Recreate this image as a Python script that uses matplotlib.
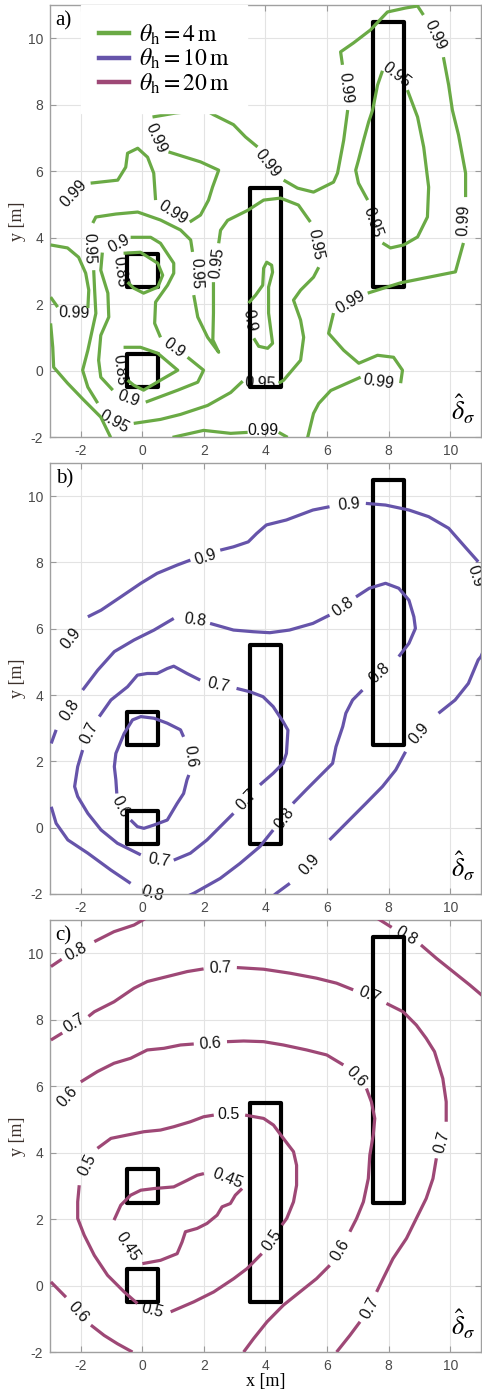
import math
import matplotlib
matplotlib.use('Agg')
import matplotlib.pyplot as plt
from matplotlib.lines import Line2D
from matplotlib.patches import Rectangle

plt.rcParams['font.family'] = ['Liberation Sans', 'DejaVu Sans']
plt.rcParams['mathtext.fontset'] = 'stix'
plt.rcParams['axes.unicode_minus'] = False

# obstacles (x0, y0, width, height) in metres
obstacles = [(-0.5, 2.5, 1.0, 1.0), (-0.5, -0.5, 1.0, 1.0),
             (3.5, -0.5, 1.0, 6.0), (7.5, 2.5, 1.0, 8.0)]

ticks = [-2, 0, 2, 4, 6, 8, 10]
xlim = (-3, 11)
ylim = (-2, 11)

colors = ['#6aaa45', '#6654aa', '#9e4876']
legend_labels = [r'$\theta_{\mathrm{h}} = 4\,\mathrm{m}$',
                 r'$\theta_{\mathrm{h}} = 10\,\mathrm{m}$',
                 r'$\theta_{\mathrm{h}} = 20\,\mathrm{m}$']
panel_tags = ['a)', 'b)', 'c)']

# contour paths: (x, y) vertices, (x, y, True) marks where the level label sits
contours_a = [
    ('0.99', [(-3.01, 4.32), (-2.23, 5.34, True), (-1.68, 5.64), (-0.80, 5.73), (-0.54, 6.12),
              (-0.48, 6.54), (-0.15, 6.69), (0.17, 6.42), (0.37, 5.94), (0.43, 5.13),
              (0.98, 4.74, True), (1.54, 4.47), (1.89, 4.68), (2.15, 5.13), (2.28, 5.52),
              (2.48, 6.03), (1.89, 6.28), (0.85, 6.58), (0.43, 7.0, True), (0.33, 7.63),
              (1.08, 7.75), (2.03, 7.85), (2.31, 7.70), (2.96, 7.40), (3.35, 7.03), (3.74, 6.73),
              (4.07, 6.24, True), (4.59, 5.73), (5.04, 5.49), (5.56, 5.37), (6.21, 5.67),
              (6.34, 5.94), (6.54, 6.93), (6.67, 7.84), (6.60, 8.50, True), (6.50, 9.20),
              (6.44, 9.59), (6.86, 9.86), (7.41, 10.25), (7.96, 10.79), (8.55, 10.91),
              (8.94, 10.97), (9.13, 10.70), (9.52, 10.10, True), (9.78, 9.43), (9.95, 8.59),
              (10.07, 7.84), (10.27, 7.09), (10.50, 5.94), (10.50, 5.22), (10.43, 4.53, True),
              (10.43, 3.84), (10.17, 2.97), (9.36, 2.82), (8.39, 2.64), (7.32, 2.33),
              (6.76, 2.06, True), (6.21, 1.73), (6.05, 1.12), (6.54, 0.61), (7.03, 0.22),
              (7.64, 0.46), (8.16, 0.40), (8.45, 0.01), (8.39, -0.38), (7.68, -0.35, True),
              (7.09, -0.20), (6.12, -0.60), (5.73, -0.99), (5.56, -1.29), (5.37, -2.01)]),
    ('0.99', [(-2.98, 2.21), (-2.75, 1.91), (-2.23, 1.72, True), (-1.77, 1.88), (-1.74, 2.42),
              (-1.84, 2.93), (-2.07, 3.41), (-2.43, 3.69), (-2.98, 3.78)]),
    ('0.99', [(-2.98, 1.42), (-2.91, 0.70), (-2.88, 0.10), (-2.43, -0.38), (-1.90, -0.89),
              (-1.35, -1.40), (-1.03, -2.01)]),
    ('0.99', [(0.98, -2.01), (1.99, -1.80), (2.87, -1.89), (3.42, -1.86), (3.91, -1.80, True),
              (4.43, -1.86), (4.72, -2.01)]),
    ('0.95', [(-1.74, 3.68, True), (-1.61, 4.44), (-1.51, 4.62), (-0.86, 4.71), (-0.15, 4.77),
              (0.59, 4.53), (1.24, 4.23), (1.57, 3.93), (1.63, 3.57), (1.74, 2.93, True),
              (1.67, 2.27), (1.80, 1.61), (2.12, 1.00), (2.48, 0.55), (2.29, 0.92), (2.31, 1.73),
              (2.31, 2.66), (2.44, 3.23, True), (2.48, 3.83), (2.54, 4.22), (2.77, 4.52),
              (3.42, 4.82), (3.94, 5.13), (4.49, 5.19), (5.07, 4.98), (5.46, 4.47),
              (5.63, 3.78, True), (5.73, 3.11), (5.56, 2.81), (5.14, 2.42), (4.91, 2.12),
              (5.14, 1.52), (5.24, 1.00), (5.14, 0.31), (4.59, -0.29), (4.43, -0.38),
              (3.84, -0.38, True), (3.26, -0.32), (2.87, -0.66), (2.12, -1.05), (1.24, -1.32),
              (0.59, -1.47), (-0.28, -1.59), (-0.90, -1.53, True), (-1.45, -0.98), (-1.77, -0.50),
              (-1.94, 0.01), (-1.77, 0.61), (-1.51, 1.72), (-1.55, 2.42), (-1.58, 3.02)]),
    ('0.95', [(8.26, 8.90, True), (7.80, 9.02), (7.64, 8.59), (7.48, 7.84), (7.35, 7.48),
              (7.19, 6.94), (7.02, 6.33), (6.93, 6.03), (7.02, 5.64), (7.32, 5.13),
              (7.48, 4.47, True), (7.80, 3.84), (8.06, 3.69), (8.49, 3.78), (8.94, 4.02),
              (9.26, 4.62), (9.30, 5.52), (9.14, 6.72), (8.94, 7.63), (8.61, 8.44)]),
    ('0.9', [(-0.77, 3.82, True), (-0.38, 4.01), (0.27, 4.01), (0.59, 3.83), (1.02, 3.23),
             (1.02, 2.93), (0.82, 2.57), (0.43, 2.06), (0.40, 1.42), (0.59, 1.00),
             (1.02, 0.67, True), (1.47, 0.40), (1.99, 0.01), (1.80, -0.35), (1.15, -0.59),
             (0.11, -0.95), (-0.44, -0.83, True), (-0.96, -0.59), (-1.35, -0.20), (-1.42, 0.31),
             (-1.35, 1.06), (-1.09, 1.61), (-1.12, 2.33), (-1.35, 3.02), (-1.30, 3.55)]),
    ('0.9', [(3.49, 1.52, True), (3.45, 2.03), (3.68, 2.27), (3.91, 2.57), (3.94, 3.08),
             (4.04, 3.26), (4.20, 3.17), (4.23, 2.96), (4.10, 2.51), (4.10, 1.73), (4.23, 0.82),
             (4.07, 0.67), (3.78, 0.73), (3.62, 0.97)]),
    ('0.85', [(-0.72, 2.98, True), (-0.61, 3.53), (-0.06, 3.56), (0.50, 3.23), (0.66, 2.87),
              (0.50, 2.51), (0.04, 2.33), (-0.28, 2.48), (-0.48, 2.66)]),
    ('0.85', [(-0.75, 0.03, True), (-0.61, 0.70), (-0.06, 0.70), (0.50, 0.52), (1.15, 0.01),
              (0.59, -0.29), (0.04, -0.59), (-0.28, -0.44), (-0.48, -0.29)]),
]

contours_b = [
    ('0.9', [(-2.96, 5.0), (-2.31, 5.71, True), (-1.77, 6.36), (-1.34, 6.56), (-0.70, 6.96),
             (-0.05, 7.37), (0.48, 7.67), (1.13, 7.92), (1.56, 8.07), (2.04, 8.17, True),
             (2.53, 8.37), (2.96, 8.47), (3.44, 8.62), (3.71, 8.87), (4.03, 9.13), (4.68, 9.28),
             (5.11, 9.43), (5.54, 9.58), (6.08, 9.68), (6.72, 9.75, True), (7.26, 9.78),
             (7.90, 9.73), (8.66, 9.58), (9.30, 9.38), (9.95, 9.03), (10.48, 8.47), (10.91, 8.02),
             (10.82, 7.60, True), (11.2, 7.2), (11.2, 5.6), (11.0, 5.16), (10.91, 5.06),
             (10.59, 4.35), (10.16, 3.85), (9.62, 3.45), (8.98, 2.84, True), (8.55, 2.29),
             (8.23, 1.74), (7.80, 1.24), (7.26, 0.73), (6.83, 0.33), (6.08, -0.37),
             (5.43, -1.13, True), (4.79, -1.68), (4.35, -1.98), (4.2, -2.1)]),
    ('0.8', [(-2.96, 2.54), (-2.80, 2.95), (-2.37, 3.55, True), (-1.94, 4.15), (-1.45, 4.75),
             (-0.91, 5.31), (-0.27, 5.66), (0.38, 5.96), (1.02, 6.31), (1.72, 6.26, True),
             (2.20, 6.16), (2.96, 5.96), (3.60, 5.91), (4.14, 5.88), (4.78, 5.96), (5.54, 6.16),
             (6.08, 6.41), (6.51, 6.66, True), (6.94, 6.96), (7.37, 7.22), (7.90, 7.37),
             (8.33, 7.22), (8.66, 6.86), (8.82, 6.36), (8.87, 6.01), (8.66, 5.56), (8.33, 5.16),
             (7.69, 4.65, True), (7.15, 4.15), (6.83, 3.85), (6.61, 3.45), (6.51, 3.05),
             (6.29, 2.44), (6.18, 1.94), (5.75, 1.54), (5.32, 1.14), (4.89, 0.73),
             (4.62, 0.28, True), (4.25, -0.07), (3.82, -0.57), (3.17, -1.08), (2.53, -1.53),
             (1.67, -1.98), (1.5, -2.05)]),
    ('0.8', [(-2.96, 0.63), (-2.80, 0.13), (-2.42, -0.37), (-1.77, -0.77), (-1.02, -1.28),
             (-0.38, -1.68), (0.32, -1.98, True), (1.0, -2.05)]),
    ('0.7', [(-1.72, 2.84, True), (-1.40, 3.35), (-1.02, 3.85), (-0.48, 4.25), (-0.16, 4.60),
             (0.16, 4.65), (0.48, 4.65), (0.81, 4.80), (1.02, 4.87), (1.45, 4.65), (1.88, 4.45),
             (2.47, 4.30, True), (3.06, 4.20), (3.49, 4.10), (3.92, 3.95), (4.25, 3.65),
             (4.57, 3.20), (4.73, 2.94), (4.68, 2.24), (4.57, 1.94), (4.25, 1.64), (3.82, 1.29),
             (3.39, 0.83, True), (2.96, 0.43), (2.53, 0.03), (2.10, -0.37), (1.56, -0.77),
             (1.02, -0.98), (0.54, -0.98, True), (-0.05, -0.82), (-0.81, -0.47), (-1.34, -0.07),
             (-1.77, 0.43), (-2.10, 0.94), (-2.20, 1.24), (-2.10, 1.84), (-1.94, 2.34)]),
    ('0.6', [(1.56, 2.14, True), (1.34, 2.74), (1.24, 2.95), (0.81, 3.15), (0.38, 3.30),
             (-0.05, 3.35), (-0.32, 3.25), (-0.59, 2.84), (-0.86, 2.24), (-0.91, 1.84),
             (-0.86, 1.44), (-0.83, 1.03), (-0.70, 0.63, True), (-0.38, 0.23), (-0.16, 0.03),
             (0.05, -0.02), (0.38, 0.08), (0.81, 0.23), (1.13, 0.73), (1.34, 1.03), (1.45, 1.44),
             (1.51, 1.59)]),
]

contours_c = [
    ('0.8', [(-2.97, 9.60), (-2.62, 9.82), (-2.16, 10.05, True), (-1.56, 10.35), (-0.92, 10.65),
             (-0.27, 10.85), (0.2, 11.1)]),
    ('0.8', [(7.55, 11.1), (8.1, 10.78), (8.58, 10.52, True), (9.05, 10.25), (9.55, 9.85),
             (10.09, 9.45), (10.63, 9.05), (11.05, 8.72)]),
    ('0.7', [(-2.97, 7.39), (-2.6, 7.6), (-2.21, 7.89, True), (-1.75, 8.1), (-1.56, 8.24),
             (-0.92, 8.54), (-0.27, 8.95), (0.16, 9.15), (0.81, 9.30), (1.46, 9.45), (1.99, 9.53),
             (2.54, 9.55, True), (3.07, 9.57), (3.94, 9.52), (4.80, 9.40), (5.66, 9.25),
             (6.31, 9.10), (6.85, 8.90), (7.39, 8.75, True), (7.93, 8.49), (8.47, 8.24),
             (8.90, 7.84), (9.22, 7.44), (9.49, 7.04), (9.76, 6.23), (9.87, 5.53), (9.87, 4.93),
             (9.74, 4.33, True), (9.55, 3.83), (9.44, 3.22), (9.22, 2.62), (8.90, 2.02),
             (8.58, 1.42), (8.14, 0.81), (7.82, 0.21), (7.61, -0.19), (7.39, -0.69, True),
             (7.07, -1.09), (6.74, -1.50), (6.31, -2.0)]),
    ('0.6', [(-2.97, 5.13), (-2.43, 5.68, True), (-2.0, 6.13), (-1.46, 6.44), (-0.92, 6.69),
             (-0.38, 6.84), (0.16, 7.09), (0.70, 7.14), (1.24, 7.24), (1.67, 7.27),
             (2.21, 7.29, True), (2.75, 7.34), (3.29, 7.36), (3.94, 7.34), (4.58, 7.24),
             (5.34, 7.09), (5.99, 6.94), (6.53, 6.64), (6.96, 6.29, True), (7.28, 5.93),
             (7.44, 5.53), (7.55, 5.03), (7.50, 4.53), (7.39, 3.93), (7.34, 3.22), (7.18, 2.52),
             (6.96, 2.02), (6.74, 1.62), (6.42, 1.06, True), (6.09, 0.61), (5.66, 0.21),
             (5.12, -0.19), (4.58, -0.59), (4.05, -1.09), (3.61, -1.60), (3.29, -2.0)]),
    ('0.6', [(-2.97, 0.11), (-2.48, -0.35), (-2.10, -0.79, True), (-1.67, -1.19), (-1.24, -1.50),
             (-0.81, -1.75), (-0.32, -2.0)]),
    ('0.5', [(-1.78, 3.62, True), (-1.46, 4.13), (-1.02, 4.43), (-0.49, 4.53), (0.05, 4.63),
             (0.59, 4.68), (1.02, 4.78), (1.56, 4.93), (1.99, 5.08), (2.32, 5.13),
             (2.80, 5.15, True), (3.34, 5.13), (3.94, 5.03), (4.26, 4.83), (4.58, 4.43),
             (4.91, 4.03), (5.01, 3.62), (5.01, 3.02), (4.91, 2.52), (4.69, 2.02), (4.53, 1.82),
             (4.21, 1.37, True), (3.88, 0.96), (3.40, 0.51), (2.97, 0.21), (2.32, -0.19),
             (1.67, -0.49), (0.92, -0.79), (0.32, -0.74, True), (-0.16, -0.54), (-0.59, -0.19),
             (-1.13, 0.31), (-1.56, 0.91), (-1.89, 1.52), (-2.10, 2.02), (-2.10, 2.52),
             (-2.05, 3.02)]),
    ('0.45', [(2.78, 3.22, True), (2.0, 3.37), (1.78, 3.32), (1.46, 3.17), (1.02, 2.97),
              (0.38, 2.92), (-0.05, 2.87), (-0.38, 2.72), (-0.70, 2.42), (-0.92, 1.97),
              (-0.49, 1.16, True), (0.0, 0.66), (0.59, 0.76), (1.13, 0.96), (1.29, 1.31),
              (1.40, 1.62), (1.78, 1.72), (2.10, 1.87), (2.43, 2.12), (2.59, 2.37), (2.86, 2.47),
              (3.02, 2.72), (3.24, 2.92)]),
]


def draw_contours(ax, contours, color):
    for level, path in contours:
        segments = [[]]
        for i, p in enumerate(path):
            if len(p) == 3:
                prev_pt = path[i - 1] if i > 0 else path[-1]
                next_pt = path[i + 1] if i + 1 < len(path) else path[0]
                (x0, y0), (x1, y1) = ax.transData.transform([prev_pt[:2], next_pt[:2]])
                ang = math.degrees(math.atan2(y1 - y0, x1 - x0))
                if ang > 90:
                    ang -= 180
                elif ang < -90:
                    ang += 180
                ax.text(p[0], p[1], level, rotation=ang, rotation_mode='anchor',
                        ha='center', va='center', fontsize=11.5, color='#111111', zorder=2.5)
                segments.append([])
            else:
                segments[-1].append(p)
        for seg in segments:
            if len(seg) > 1:
                xs = [q[0] for q in seg]
                ys = [q[1] for q in seg]
                ax.plot(xs, ys, color=color, lw=2.3, solid_capstyle='butt', zorder=4)


fig = plt.figure(figsize=(4.82, 13.94), dpi=100)
axes_rects = [[0.1037, 0.6865, 0.8942, 0.3099],
              [0.1037, 0.3587, 0.8942, 0.3092],
              [0.1037, 0.0301, 0.8942, 0.3099]]
all_contours = [contours_a, contours_b, contours_c]

for k, rect in enumerate(axes_rects):
    ax = fig.add_axes(rect)
    ax.set_xlim(*xlim)
    ax.set_ylim(*ylim)
    ax.set_xticks(ticks)
    ax.set_yticks(ticks)
    ax.set_axisbelow(True)
    ax.grid(True, color='#e3e3e3', lw=0.8)
    ax.tick_params(direction='in', length=4, width=0.8, color='#9a9a9a', top=True, right=True,
                   labelsize=10, labelcolor='#4a4a4a', pad=5)
    for s in ax.spines.values():
        s.set_color('#a0a0a0')
        s.set_linewidth(1.0)

    for (x0, y0, w, h) in obstacles:
        ax.add_patch(Rectangle((x0, y0), w, h, fill=False, edgecolor='black', lw=3.0,
                               joinstyle='round', zorder=3))

    draw_contours(ax, all_contours[k], colors[k])

    ax.set_ylabel('y [m]', fontfamily='Liberation Serif', fontsize=13, color='#3b302b', labelpad=1)
    ax.text(0.013, 0.985, panel_tags[k], transform=ax.transAxes, ha='left', va='top',
            fontfamily='Liberation Serif', fontsize=15, zorder=6)
    ax.text(0.988, 0.025, r'$\hat{\delta}_{\sigma}$', transform=ax.transAxes, ha='right',
            va='bottom', fontsize=19, zorder=6)

    if k == 0:
        handles = [Line2D([], [], color=c, lw=3.2) for c in colors]
        leg = ax.legend(handles, legend_labels, loc='upper left', bbox_to_anchor=(0.072, 1.0),
                        fontsize=17, frameon=True, fancybox=False, framealpha=1,
                        facecolor='white', edgecolor='white', handlelength=1.3,
                        handletextpad=0.4, labelspacing=0.0, borderpad=0.75, borderaxespad=0.0)
        leg.set_zorder(7)
    if k == 2:
        ax.set_xlabel('x [m]', fontfamily='Liberation Serif', fontsize=13, labelpad=0)

fig.savefig('out.png', dpi=100)
